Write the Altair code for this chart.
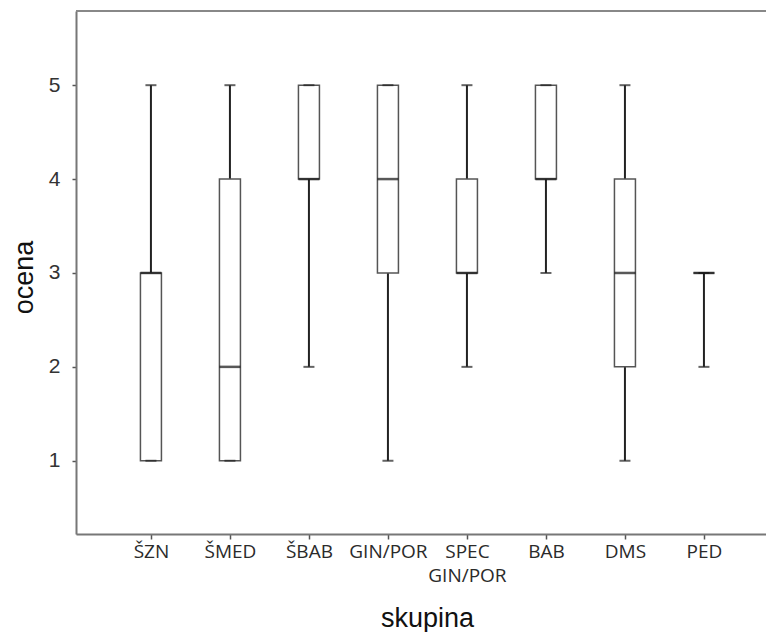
import altair as alt
import pandas as pd

groups = ["ŠZN", "ŠMED", "ŠBAB", "GIN/POR", "SPEC GIN/POR", "BAB", "DMS", "PED"]
mins = [1, 1, 2, 1, 2, 3, 1, 2]
q1s = [1, 1, 4, 3, 3, 4, 2, 3]
medians = [3, 2, 4, 4, 3, 4, 3, 3]
q3s = [3, 4, 5, 5, 4, 5, 4, 3]
maxs = [5, 5, 5, 5, 5, 5, 5, 3]

df = pd.DataFrame({"skupina": groups, "lo": mins, "q1": q1s, "med": medians,
                   "q3": q3s, "hi": maxs})

W, H = 690, 523
xscale = alt.Scale(type="point", domain=groups, padding=0.867, align=0.547)
yscale = alt.Scale(domain=[0.22, 5.79], nice=False, zero=False)

x = alt.X("skupina:N", scale=xscale, sort=groups, title="skupina",
          axis=alt.Axis(labelExpr="split(datum.label, ' ')", labelAngle=0,
                        labelFont="Open Sans", labelFontSize=19, labelColor="#2a2a2a",
                        labelLineHeight=24, labelPadding=3, tickSize=5,
                        tickColor="#555", tickWidth=1.5, domainColor="#777",
                        domainWidth=2, titleFont="Liberation Sans", titleFontSize=27,
                        titleFontWeight="normal", titleColor="#111",
                        titleX=351, titleY=84, titleBaseline="middle"))
y_axis = alt.Axis(values=[1, 2, 3, 4, 5], format="d", grid=False,
                  labelFont="Liberation Sans",
                  labelFontSize=21, labelColor="#333", labelPadding=12, tickSize=4,
                  tickColor="#555", tickWidth=1.5, domainColor="#777", domainWidth=2,
                  titleFont="Liberation Sans", titleFontSize=27,
                  titleFontWeight="normal", titleColor="#111",
                  titleX=-52, titleY=266, titleBaseline="middle")

base = alt.Chart(df)

whisker = base.mark_rule(color="#222", strokeWidth=2).encode(
    x=x, y=alt.Y("lo:Q", scale=yscale, axis=y_axis, title="ocena"), y2="hi:Q")
box = base.mark_bar(fill="white", stroke="#555", strokeWidth=1.5, size=21).encode(
    x=x, y=alt.Y("q1:Q", scale=yscale), y2="q3:Q")
cap_lo = base.mark_tick(color="#222", size=11, thickness=2).encode(
    x=x, y=alt.Y("lo:Q", scale=yscale))
cap_hi = base.mark_tick(color="#222", size=11, thickness=2).encode(
    x=x, y=alt.Y("hi:Q", scale=yscale))
median = base.mark_tick(color="#111", size=21, thickness=2.5).encode(
    x=x, y=alt.Y("med:Q", scale=yscale))
top = alt.Chart(pd.DataFrame({"a": [0]})).mark_rule(color="#888", strokeWidth=2).encode(
    x=alt.value(0), x2=alt.value(W), y=alt.value(0))

chart = alt.layer(whisker, box, cap_lo, cap_hi, median, top).properties(
    width=W, height=H,
    autosize=alt.AutoSizeParams(type="none"),
    padding={"left": 68, "top": 3, "right": 0, "bottom": 99},
).configure_view(stroke=None).configure(background="white")

chart.save("out.html", embed_options={"renderer": "svg", "actions": False})
